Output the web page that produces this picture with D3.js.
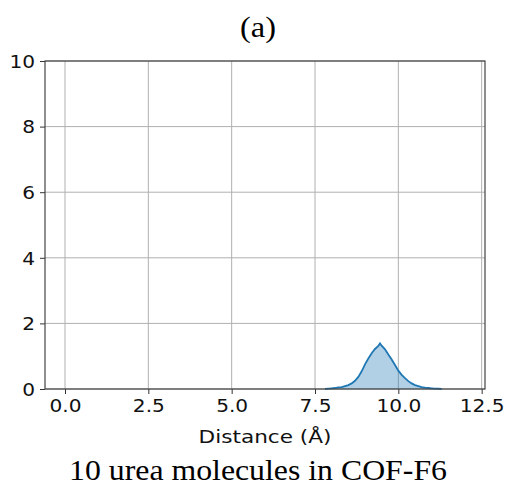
<!DOCTYPE html>
<html><head><meta charset="utf-8">
<script src="https://cdn.jsdelivr.net/npm/d3@7"></script>
<style>body{margin:0;background:#fff}</style>
</head><body>
<script>
const distances = [7.8,7.9,8.0,8.1,8.2,8.3,8.4,8.5,8.6,8.7,8.8,8.9,9.0,9.1,9.2,9.3,9.4,9.45,9.5,9.6,9.7,9.8,9.9,10.0,10.1,10.2,10.3,10.4,10.5,10.6,10.7,10.8,10.9,11.0,11.1,11.2,11.3];
const density = [0,0.01,0.02,0.03,0.05,0.06,0.09,0.12,0.17,0.25,0.37,0.54,0.75,0.93,1.09,1.22,1.31,1.39,1.32,1.21,1.05,0.90,0.73,0.56,0.43,0.33,0.24,0.17,0.12,0.09,0.06,0.04,0.03,0.02,0.01,0.01,0];
const xTicks = [0,2.5,5,7.5,10,12.5];
const yTicks = [0,2,4,6,8,10];
const title = "(a)";
const xLabel = "Distance (Å)";
const caption = "10 urea molecules in COF-F6";

const W=510,H=490;
const m={l:45,r:25,t:61,b:101};
const SX=1.15;
const svg=d3.select("body").append("svg").attr("width",W).attr("height",H);
const x=d3.scaleLinear().domain([-0.6,12.6]).range([m.l,W-m.r]);
const y=d3.scaleLinear().domain([0,10]).range([H-m.b,m.t]);

svg.append("g").selectAll("line").data(xTicks).join("line")
 .attr("x1",d=>x(d)).attr("x2",d=>x(d)).attr("y1",y(0)).attr("y2",y(10))
 .attr("stroke","#b0b0b0").attr("stroke-width",1);
svg.append("g").selectAll("line").data(yTicks).join("line")
 .attr("x1",x(-0.6)).attr("x2",x(12.6)).attr("y1",d=>y(d)).attr("y2",d=>y(d))
 .attr("stroke","#b0b0b0").attr("stroke-width",1);

const data=distances.map((d,i)=>[d,density[i]]);
svg.append("path").datum(data)
 .attr("d",d3.area().x(d=>x(d[0])).y0(y(0)).y1(d=>y(d[1])))
 .attr("fill","#1f77b4").attr("fill-opacity",0.35);
svg.append("path").datum(data)
 .attr("d",d3.line().x(d=>x(d[0])).y(d=>y(d[1])))
 .attr("fill","none").attr("stroke","#1f77b4").attr("stroke-width",1.8);

const fmt=d3.format(".1f");
const xa=svg.append("g").attr("transform",`translate(0,${y(0)})`)
 .call(d3.axisBottom(x).tickValues(xTicks).tickFormat(fmt).tickSize(5).tickPadding(6));
const ya=svg.append("g").attr("transform",`translate(${x(-0.6)},0)`)
 .call(d3.axisLeft(y).tickValues(yTicks).tickFormat(d3.format("d")).tickSize(5).tickPadding(5));
[xa,ya].forEach(a=>{a.select(".domain").remove();
 a.selectAll("text").attr("font-family","DejaVu Sans").attr("font-size",17.5).attr("fill","#111");
 a.selectAll("line").attr("stroke","#333");});
ya.selectAll("text").attr("dy","0.36em");
// horizontal stretch as in the reference image
xa.selectAll(".tick text").attr("transform",`scale(${SX},1)`);
ya.selectAll(".tick text").each(function(){
  const t=d3.select(this); const xx=+t.attr("x");
  t.attr("x",xx/SX).attr("transform",`scale(${SX},1)`);
});

svg.append("rect").attr("x",x(-0.6)).attr("y",y(10)).attr("width",x(12.6)-x(-0.6)).attr("height",y(0)-y(10))
 .attr("fill","none").attr("stroke","#444").attr("stroke-width",1.2);

svg.append("text").attr("transform",`translate(${(x(-0.6)+x(12.6))/2},443) scale(1.2,1)`).attr("text-anchor","middle")
 .attr("font-family","DejaVu Sans").attr("font-size",18).attr("fill","#111").text(xLabel);
svg.append("text").attr("transform",`translate(258,37) scale(1.08,1)`).attr("text-anchor","middle")
 .attr("font-family","Liberation Serif").attr("font-size",30).attr("fill","#000").text(title);
svg.append("text").attr("transform",`translate(258,480) scale(1.06,1)`).attr("text-anchor","middle")
 .attr("font-family","Liberation Serif").attr("font-size",30).attr("fill","#000").text(caption);
</script>
</body></html>
